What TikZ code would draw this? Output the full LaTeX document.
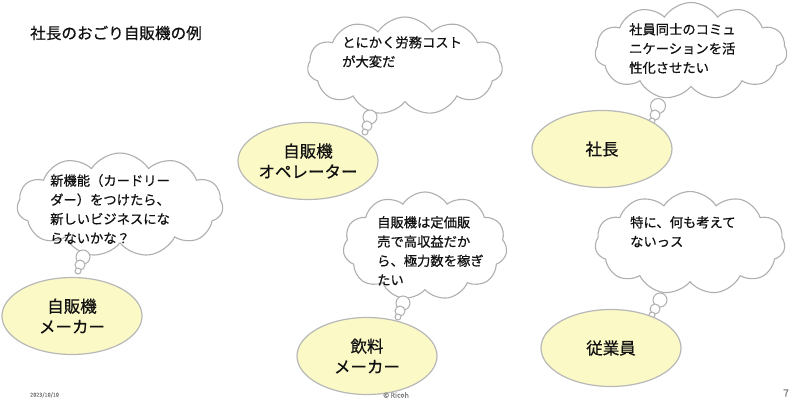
\documentclass[tikz,border=0pt]{standalone}
\usepackage{fontspec}
\setmainfont{Noto Sans CJK JP}[FakeBold=0.6]
\usetikzlibrary{shapes.symbols,shapes.geometric}
\definecolor{ellfill}{HTML}{FBF9C6}
\definecolor{ellline}{HTML}{B8B8B8}
\definecolor{cloudline}{HTML}{AFAFAF}
\definecolor{txt}{HTML}{111111}
\tikzset{
  actor/.style={ellipse, draw=ellline, line width=1.2pt, fill=ellfill, inner sep=0pt,
    minimum width=140pt, minimum height=77pt, align=center, text=txt,
    font=\fontsize{16.5}{20.5}\selectfont},
  thought/.style={cloud, cloud puffs=11, cloud puff arc=115, aspect=2, draw=cloudline,
    line width=1.1pt, fill=white, inner sep=0pt},
  bub/.style={circle, draw=cloudline, line width=1pt, fill=white, inner sep=0pt},
  saying/.style={anchor=north west, align=left, inner sep=0pt, text=txt,
    font=\fontsize{13.3}{19.2}\selectfont},
  foot/.style={text=gray, inner sep=0pt}
}
\begin{document}
\begin{tikzpicture}[x=1pt,y=1pt]
\useasboundingbox[fill=white] (0,0) rectangle (800,400);

% title
\node[anchor=west, inner sep=0pt, text=txt, font=\fontsize{15.6}{18}\selectfont] (title) at (30,367) {社長のおごり自販機の例};

% clouds
\node[thought, minimum width=206pt, minimum height=104pt] (c1) at (120,195) {};
\node[thought, minimum width=195pt, minimum height=98pt] (c2) at (405,334) {};
\node[thought, minimum width=192pt, minimum height=97pt] (c3) at (691,349) {};
\node[thought, minimum width=164pt, minimum height=108pt] (c4) at (425,154) {};
\node[thought, minimum width=190pt, minimum height=103pt] (c5) at (690,157) {};

% bubbles
\node[bub, minimum size=14pt] (b1a) at (83,143) {};
\node[bub, minimum size=10pt] (b1b) at (80,135) {};
\node[bub, minimum size=6pt]  (b1c) at (78,129) {};
\node[bub, minimum size=14pt] (b2a) at (370,283) {};
\node[bub, minimum size=10pt] (b2b) at (367,274) {};
\node[bub, minimum size=6pt]  (b2c) at (365,268) {};
\node[bub, minimum size=15pt] (b3a) at (658,294) {};
\node[bub, minimum size=10pt] (b3b) at (655,285) {};
\node[bub, minimum size=6pt]  (b3c) at (652,279) {};
\node[bub, minimum size=14pt] (b4a) at (403,97) {};
\node[bub, minimum size=10pt] (b4b) at (400,89) {};
\node[bub, minimum size=6pt]  (b4c) at (398,83) {};
\node[bub, minimum size=14pt] (b5a) at (660,100) {};
\node[bub, minimum size=10pt] (b5b) at (655,91) {};
\node[bub, minimum size=6pt]  (b5c) at (652,85) {};

% cloud texts
\node[saying] (t1) at (50,226) {新機能（カードリー\\ダー）をつけたら、\\新しいビジネスにな\\らないかな？};
\node[saying] (t2) at (342,364) {とにかく労務コスト\\が大変だ};
\node[saying] (t3) at (629,377) {社員同士のコミュ\\ニケーションを活\\性化させたい};
\node[saying] (t4) at (377,184) {自販機は定価販\\売で高収益だか\\ら、極力数を稼ぎ\\たい};
\node[saying] (t5) at (630,184) {特に、何も考えて\\ないっス};

% actors
\node[actor] (e1) at (72,84) {自販機\\メーカー};
\node[actor] (e2) at (308,239) {自販機\\オペレーター};
\node[actor] (e3) at (602,251) {社長};
\node[actor] (e4) at (367,44) {飲料\\メーカー};
\node[actor] (e5) at (611,52) {従業員};

% footer
\node[foot, anchor=west, font=\fontsize{5.5}{6}\selectfont] (date) at (30,5) {2023/10/10};
\node[foot, font=\fontsize{7}{8}\selectfont] (copy) at (396,5) {© Ricoh};
\node[foot, anchor=east, font=\fontsize{10}{11}\selectfont] (page) at (789,7) {7};
\end{tikzpicture}
\end{document}
